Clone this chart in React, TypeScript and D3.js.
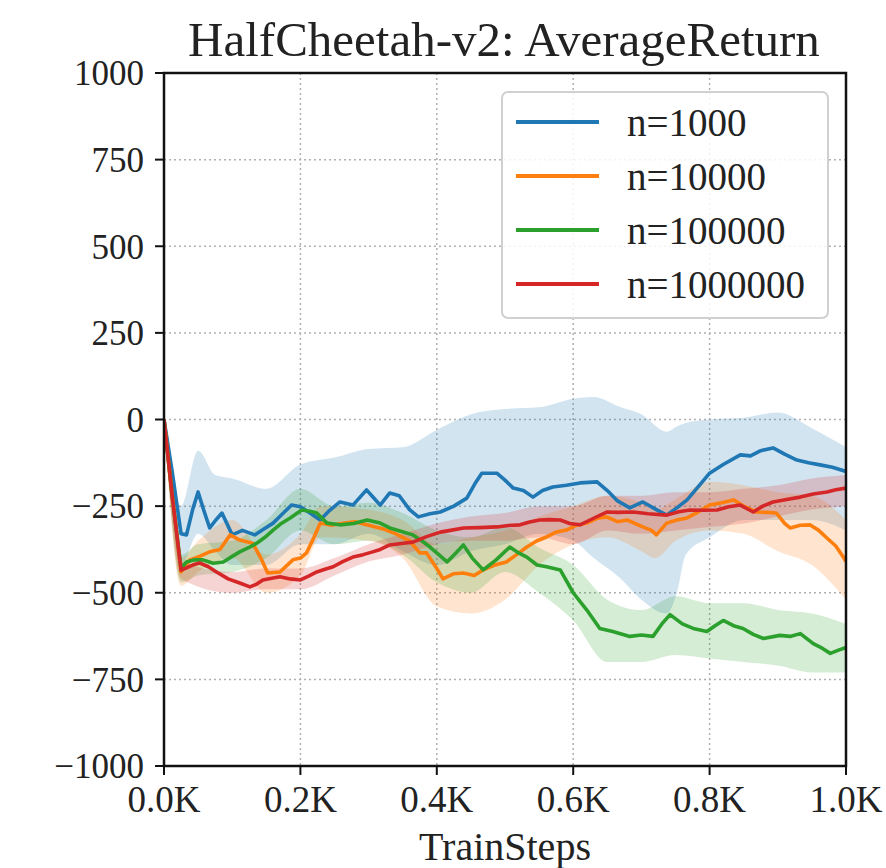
import React from "react";
import * as d3 from "d3";

const W = 886;
const H = 868;

const title = "HalfCheetah-v2: AverageReturn";
const xLabel = "TrainSteps";
const xTicks = [0, 200, 400, 600, 800, 1000];
const xTickLabels = ["0.0K", "0.2K", "0.4K", "0.6K", "0.8K", "1.0K"];
const yTicks = [1000, 750, 500, 250, 0, -250, -500, -750, -1000];
const yTickLabels = ["1000", "750", "500", "250", "0", "\u2212250", "\u2212500", "\u2212750", "\u22121000"];

const seriesNames = ["n=1000", "n=10000", "n=100000", "n=1000000"];
const seriesColors = ["#1f77b4", "#ff7f0e", "#2ca02c", "#d62728"];

const meanN1000: [number, number][] = [
  [0, 0], [12, -150], [25, -330], [33, -333], [42, -260], [50, -209], [58, -260], [67, -313], [76, -290], [85, -270],
  [100, -333], [115, -320], [133, -333], [147, -315], [160, -299], [175, -270], [187, -247], [200, -252], [214, -270],
  [229, -290], [243, -262], [258, -238], [277, -247], [297, -203], [307, -225], [317, -247], [331, -212], [345, -220],
  [360, -260], [373, -281], [390, -272], [405, -267], [425, -250], [444, -227], [456, -185], [466, -155], [488, -155],
  [500, -175], [512, -198], [527, -205], [541, -224], [555, -205], [570, -195], [590, -190], [610, -183], [635, -180],
  [650, -205], [665, -235], [683, -255], [702, -238], [720, -258], [737, -276], [752, -255], [767, -232], [785, -190],
  [800, -155], [820, -130], [845, -102], [860, -105], [875, -90], [893, -82], [910, -100], [928, -117], [945, -125],
  [962, -131], [980, -138], [1000, -150],
];
const meanN10000: [number, number][] = [
  [0, 0], [12, -220], [25, -440], [38, -405], [52, -395], [67, -382], [82, -375], [97, -333], [111, -348], [130, -357],
  [142, -400], [152, -443], [170, -440], [189, -405], [200, -400], [209, -385], [220, -340], [229, -299], [245, -305],
  [260, -300], [280, -295], [300, -305], [320, -315], [340, -330], [360, -350], [375, -385], [385, -385], [400, -430],
  [409, -460], [425, -445], [439, -443], [455, -450], [468, -434], [485, -420], [502, -411], [517, -390], [532, -368],
  [547, -350], [561, -339], [575, -325], [590, -319], [605, -305], [620, -299], [635, -285], [649, -281], [665, -295],
  [679, -290], [702, -310], [715, -320], [722, -333], [737, -299], [752, -290], [767, -284], [785, -265], [800, -247],
  [818, -240], [835, -232], [850, -250], [869, -267], [885, -268], [898, -270], [910, -300], [918, -313], [933, -305],
  [947, -304], [960, -320], [972, -342], [985, -365], [996, -397], [1000, -410],
];
const meanN100000: [number, number][] = [
  [0, 0], [12, -220], [25, -430], [33, -411], [45, -405], [57, -405], [72, -415], [87, -411], [100, -395], [111, -382],
  [124, -370], [136, -357], [148, -340], [160, -319], [172, -300], [185, -284], [202, -261], [214, -265], [224, -270],
  [239, -299], [258, -304], [278, -300], [298, -290], [317, -299], [331, -313], [341, -319], [365, -333], [378, -350],
  [390, -368], [403, -390], [415, -411], [428, -385], [439, -362], [452, -400], [468, -434], [487, -405], [507, -368],
  [520, -385], [532, -397], [547, -420], [561, -425], [581, -434], [600, -500], [620, -550], [639, -603], [658, -612],
  [683, -626], [700, -622], [717, -626], [730, -590], [742, -563], [760, -590], [776, -603], [796, -612], [808, -595],
  [820, -580], [835, -595], [849, -603], [864, -620], [879, -632], [903, -623], [918, -626], [933, -618], [952, -647],
  [965, -660], [977, -675], [990, -665], [1000, -658],
];
const meanN1000000: [number, number][] = [
  [0, 0], [12, -220], [25, -435], [33, -428], [42, -420], [52, -414], [65, -425], [77, -440], [94, -460], [111, -472],
  [126, -483], [136, -475], [145, -463], [158, -458], [170, -454], [185, -460], [200, -463], [212, -452], [224, -440],
  [236, -432], [248, -425], [262, -410], [277, -397], [292, -390], [306, -382], [317, -375], [331, -362], [348, -358],
  [365, -354], [385, -338], [405, -325], [420, -320], [439, -313], [462, -312], [488, -310], [505, -306], [522, -304],
  [536, -296], [551, -290], [565, -289], [581, -290], [595, -300], [610, -304], [630, -285], [649, -267], [665, -268],
  [688, -267], [710, -272], [737, -276], [755, -266], [771, -261], [790, -262], [811, -261], [828, -252], [845, -247],
  [864, -267], [878, -250], [893, -238], [915, -230], [933, -224], [952, -215], [972, -209], [985, -203], [1000, -198],
];

const bandN1000: [number, number, number][] = [
  [0, 0, 0], [25, -420, -250], [50, -330, -90], [75, -380, -160], [100, -420, -170], [150, -420, -200], [200, -360, -130],
  [250, -360, -110], [300, -330, -85], [350, -380, -80], [400, -420, -30], [450, -380, 15], [500, -360, 30], [550, -330, 35],
  [600, -350, 60], [630, -400, 65], [670, -460, 35], [700, -520, 15], [737, -560, -35], [752, -500, -20], [765, -390, -10],
  [800, -340, 0], [850, -290, 5], [900, -290, 20], [950, -290, -25], [1000, -320, -80],
];
const bandN10000: [number, number, number][] = [
  [0, 0, 0], [25, -480, -400], [50, -440, -350], [100, -400, -290], [150, -500, -390], [200, -450, -330], [230, -340, -250],
  [300, -350, -260], [350, -400, -290], [400, -540, -360], [450, -560, -340], [500, -520, -320], [550, -420, -280],
  [600, -360, -250], [650, -340, -220], [700, -380, -240], [720, -400, -260], [750, -350, -230], [800, -320, -180],
  [850, -330, -190], [900, -380, -210], [950, -420, -220], [1000, -520, -290],
];
const bandN100000: [number, number, number][] = [
  [0, 0, 0], [25, -470, -390], [50, -450, -360], [100, -440, -350], [150, -400, -290], [200, -320, -200], [250, -360, -250],
  [300, -350, -240], [350, -390, -270], [400, -470, -320], [450, -500, -340], [500, -440, -310], [550, -500, -370],
  [600, -580, -420], [650, -700, -520], [700, -700, -550], [750, -680, -510], [800, -690, -530], [850, -700, -530],
  [900, -710, -550], [950, -730, -560], [1000, -730, -590],
];
const bandN1000000: [number, number, number][] = [
  [0, 0, 0], [25, -460, -410], [100, -500, -440], [150, -490, -430], [200, -490, -430], [250, -450, -400], [300, -410, -360],
  [350, -390, -330], [400, -360, -300], [450, -350, -280], [500, -350, -270], [550, -340, -250], [600, -360, -250],
  [650, -320, -220], [700, -330, -220], [750, -320, -210], [800, -310, -210], [850, -300, -200], [900, -280, -190],
  [950, -260, -170], [1000, -250, -160],
];

const means = [meanN1000, meanN10000, meanN100000, meanN1000000];
const bands = [bandN1000, bandN10000, bandN100000, bandN1000000];

const FONT = "'Liberation Serif', 'DejaVu Serif', serif";

export default function App() {
  const left = 164;
  const right = 846;
  const top = 73;
  const bottom = 766;
  const x = d3.scaleLinear().domain([0, 1000]).range([left, right]);
  const y = d3.scaleLinear().domain([-1000, 1000]).range([bottom, top]);

  const line = d3
    .line<[number, number]>()
    .x((d) => x(d[0]))
    .y((d) => y(d[1]));
  const area = d3
    .area<[number, number, number]>()
    .x((d) => x(d[0]))
    .y0((d) => y(d[1]))
    .y1((d) => y(d[2]))
    .curve(d3.curveMonotoneX);

  return (
    <svg
      width={W}
      height={H}
      style={{ position: "absolute", left: 0, top: 0, background: "#fff" }}
      fontFamily={FONT}
    >
      <defs>
        <clipPath id="plotclip">
          <rect x={left} y={top} width={right - left} height={bottom - top} />
        </clipPath>
      </defs>
      <rect x={0} y={0} width={W} height={H} fill="#fff" />
      {xTicks.map((t) => (
        <line key={"gx" + t} x1={x(t)} x2={x(t)} y1={top} y2={bottom} stroke="#b0b0b0" strokeWidth={1.5} strokeDasharray="2,3" />
      ))}
      {yTicks.map((t) => (
        <line key={"gy" + t} x1={left} x2={right} y1={y(t)} y2={y(t)} stroke="#b0b0b0" strokeWidth={1.5} strokeDasharray="2,3" />
      ))}
      <g clipPath="url(#plotclip)">
        {bands.map((b, i) => (
          <path key={"b" + i} d={area(b) || ""} fill={seriesColors[i]} fillOpacity={0.2} stroke="none" />
        ))}
        {means.map((m, i) => (
          <path key={"m" + i} d={line(m) || ""} fill="none" stroke={seriesColors[i]} strokeWidth={3.6} strokeLinejoin="round" />
        ))}
      </g>
      <rect x={left} y={top} width={right - left} height={bottom - top} fill="none" stroke="#111" strokeWidth={2.5} />
      {xTicks.map((t, i) => (
        <g key={"xt" + t}>
          <line x1={x(t)} x2={x(t)} y1={bottom} y2={bottom + 9} stroke="#111" strokeWidth={2} />
          <text x={x(t)} y={bottom + 46} textAnchor="middle" fontSize={37} fill="#222">
            {xTickLabels[i]}
          </text>
        </g>
      ))}
      {yTicks.map((t, i) => (
        <g key={"yt" + t}>
          <line x1={left - 9} x2={left} y1={y(t)} y2={y(t)} stroke="#111" strokeWidth={2} />
          <text x={left - 20} y={y(t)} dy="0.35em" textAnchor="end" fontSize={35} fill="#222">
            {yTickLabels[i]}
          </text>
        </g>
      ))}
      <text x={(left + right) / 2 - 1} y={56} textAnchor="middle" fontSize={49} fill="#222">
        {title}
      </text>
      <text x={(left + right) / 2} y={860} textAnchor="middle" fontSize={40} fill="#222">
        {xLabel}
      </text>
      <g>
        <rect x={502} y={92} width={326} height={226} rx={6} fill="#fff" fillOpacity={0.85} stroke="#d0d0d0" strokeWidth={2} />
        {seriesNames.map((n, i) => (
          <g key={"lg" + i}>
            <line x1={516} x2={599} y1={122 + i * 54} y2={122 + i * 54} stroke={seriesColors[i]} strokeWidth={4} />
            <text x={627} y={122 + i * 54} dy="0.35em" fontSize={39} fill="#222">
              {n}
            </text>
          </g>
        ))}
      </g>
    </svg>
  );
}
